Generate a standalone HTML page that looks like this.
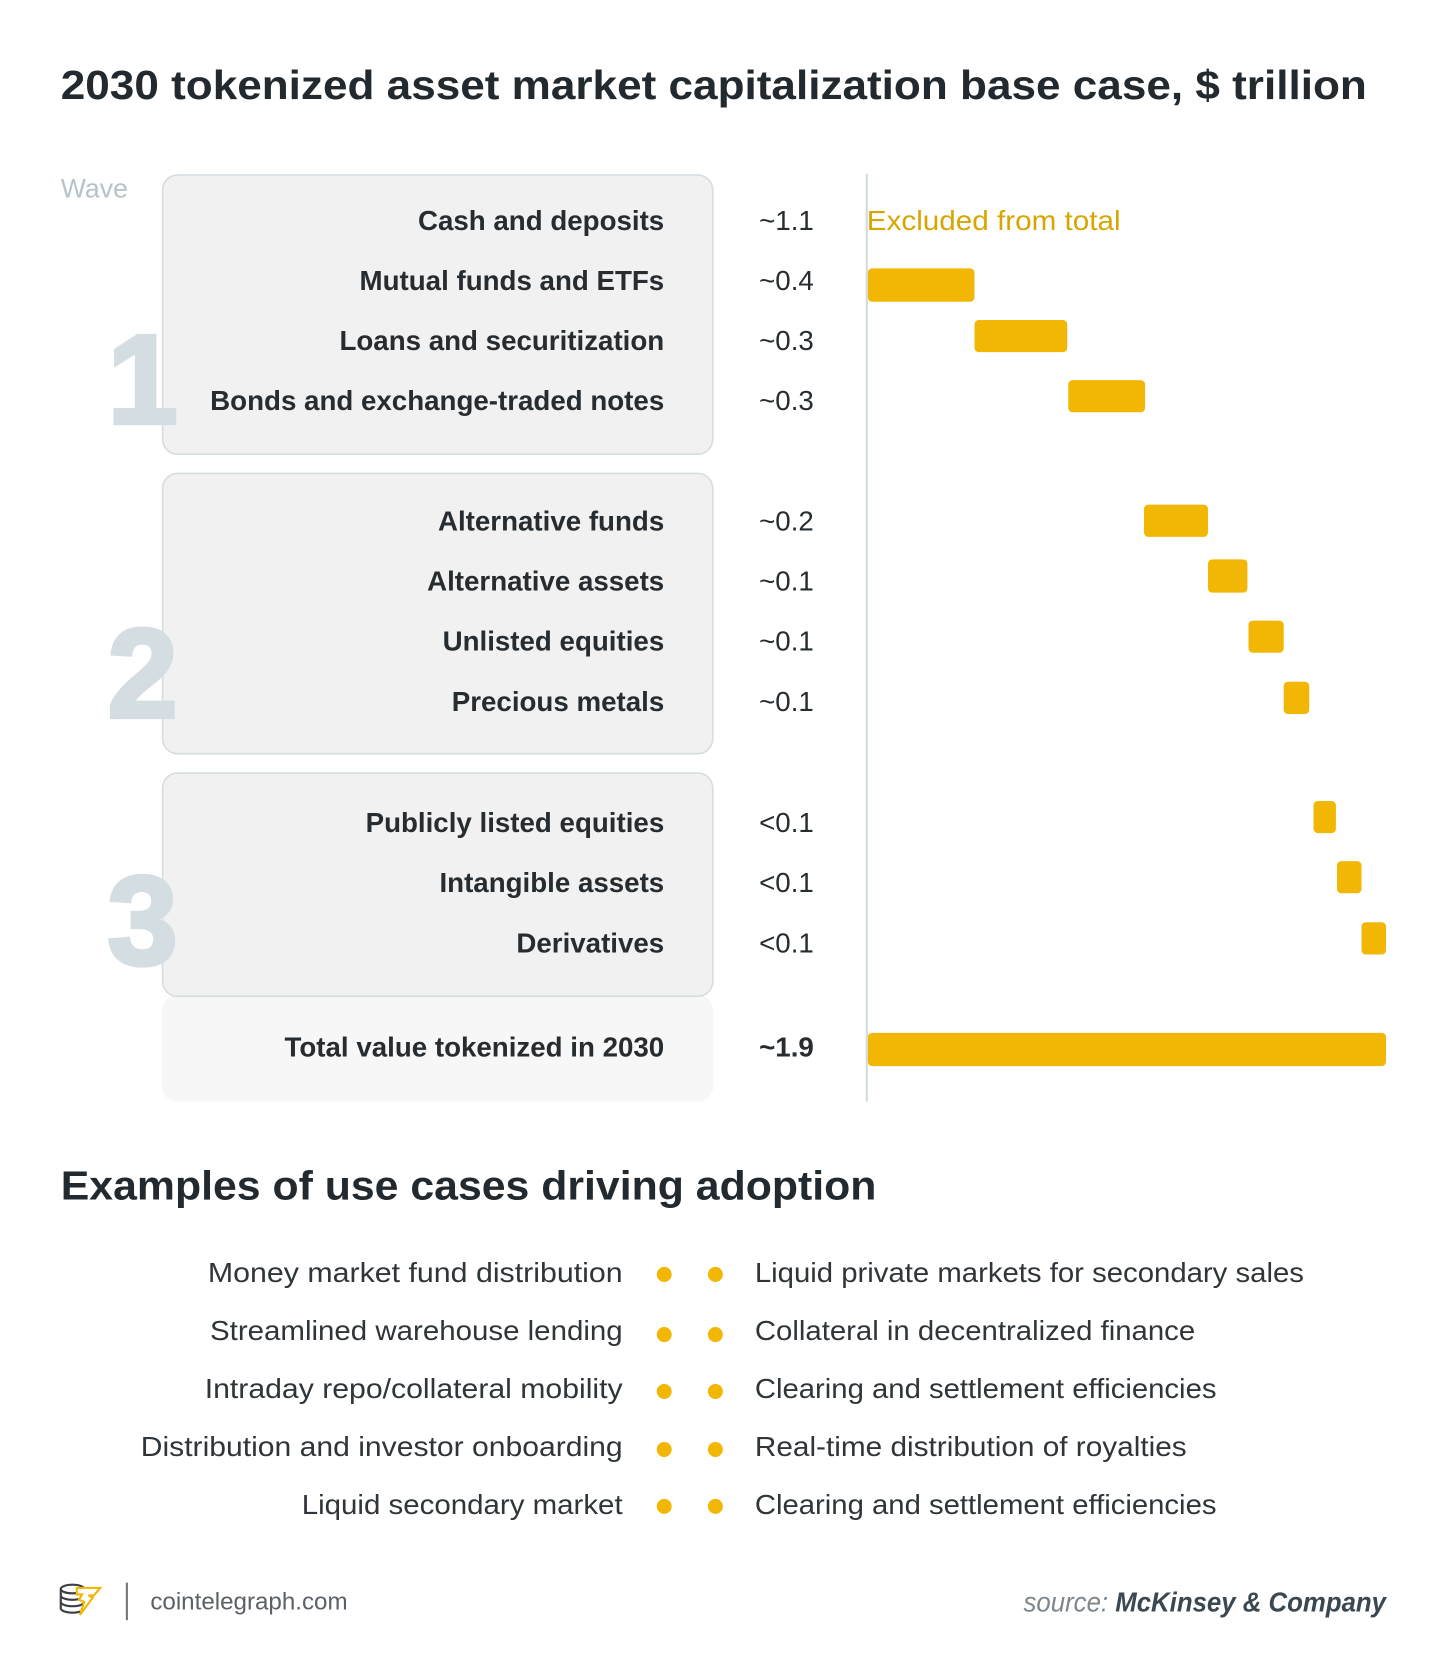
<!DOCTYPE html>
<html><head><meta charset="utf-8"><style>
html,body{margin:0;padding:0;background:#fff;}
svg{display:block;}
text{font-family:"Liberation Sans","DejaVu Sans",sans-serif;}
</style></head><body>
<svg width="1450" height="1676" viewBox="0 0 1360 1561" preserveAspectRatio="none" xmlns="http://www.w3.org/2000/svg">
<rect width="1360" height="1561" fill="#fff"/>
<text x="57" y="92" font-size="38" font-weight="bold" fill="#232a2f" textLength="1225" lengthAdjust="spacingAndGlyphs">2030 tokenized asset market capitalization base case, $ trillion</text>
<text x="57" y="184" font-size="25" fill="#b7c3cb">Wave</text>
<rect x="152" y="927" width="517" height="99" rx="14" fill="#f7f7f7"/>
<rect x="152.5" y="163" width="516" height="260" rx="14" fill="#f1f1f1" stroke="#d6dde1" stroke-width="1.5"/>
<rect x="152.5" y="441" width="516" height="261" rx="14" fill="#f1f1f1" stroke="#d6dde1" stroke-width="1.5"/>
<rect x="152.5" y="720" width="516" height="208" rx="14" fill="#f1f1f1" stroke="#d6dde1" stroke-width="1.5"/>
<g font-size="118" font-weight="bold" fill="#d4dde2" stroke="#d4dde2" stroke-width="4">
<text x="101" y="394">1</text>
<text x="101" y="668">2</text>
<text x="101" y="898">3</text>
</g>
<g font-size="26" fill="#262c30" text-anchor="end" font-weight="bold">
<text x="623" y="214">Cash and deposits</text>
<text x="623" y="270">Mutual funds and ETFs</text>
<text x="623" y="326">Loans and securitization</text>
<text x="623" y="382">Bonds and exchange-traded notes</text>
<text x="623" y="494">Alternative funds</text>
<text x="623" y="550">Alternative assets</text>
<text x="623" y="606">Unlisted equities</text>
<text x="623" y="662">Precious metals</text>
<text x="623" y="775">Publicly listed equities</text>
<text x="623" y="831">Intangible assets</text>
<text x="623" y="887">Derivatives</text>
<text x="623" y="984">Total value tokenized in 2030</text>
</g>
<g font-size="26" fill="#262c30">
<text x="712" y="214">~1.1</text>
<text x="712" y="270">~0.4</text>
<text x="712" y="326">~0.3</text>
<text x="712" y="382">~0.3</text>
<text x="712" y="494">~0.2</text>
<text x="712" y="550">~0.1</text>
<text x="712" y="606">~0.1</text>
<text x="712" y="662">~0.1</text>
<text x="712" y="775">&lt;0.1</text>
<text x="712" y="831">&lt;0.1</text>
<text x="712" y="887">&lt;0.1</text>
<text x="712" y="984" font-weight="bold">~1.9</text>
</g>
<line x1="813" y1="162" x2="813" y2="1026" stroke="#d3dbdf" stroke-width="2"/>
<text x="813" y="214" font-size="26" fill="#d7a600" textLength="238" lengthAdjust="spacingAndGlyphs">Excluded from total</text>
<g fill="#f2b705">
<rect x="814" y="250" width="100" height="31" rx="4"/>
<rect x="914" y="298" width="87" height="30" rx="4"/>
<rect x="1002" y="354" width="72" height="30" rx="4"/>
<rect x="1073" y="470" width="60" height="30" rx="4"/>
<rect x="1133" y="521" width="37" height="31" rx="4"/>
<rect x="1171" y="578" width="33" height="30" rx="4"/>
<rect x="1204" y="635" width="24" height="30" rx="4"/>
<rect x="1232" y="746" width="21" height="30" rx="4"/>
<rect x="1254" y="802" width="23" height="30" rx="4"/>
<rect x="1277" y="859" width="23" height="30" rx="4"/>
<rect x="814" y="962" width="486" height="31" rx="4"/>
</g>
<text x="57" y="1117" font-size="38" font-weight="bold" fill="#232a2f" textLength="765" lengthAdjust="spacingAndGlyphs">Examples of use cases driving adoption</text>
<g font-size="26" fill="#2f3539" text-anchor="end">
<text x="584" y="1194" textLength="389" lengthAdjust="spacingAndGlyphs">Money market fund distribution</text>
<text x="584" y="1248" textLength="387" lengthAdjust="spacingAndGlyphs">Streamlined warehouse lending</text>
<text x="584" y="1302" textLength="392" lengthAdjust="spacingAndGlyphs">Intraday repo/collateral mobility</text>
<text x="584" y="1356" textLength="452" lengthAdjust="spacingAndGlyphs">Distribution and investor onboarding</text>
<text x="584" y="1410" textLength="301" lengthAdjust="spacingAndGlyphs">Liquid secondary market</text>
</g>
<g font-size="26" fill="#2f3539">
<text x="708" y="1194" textLength="515" lengthAdjust="spacingAndGlyphs">Liquid private markets for secondary sales</text>
<text x="708" y="1248" textLength="413" lengthAdjust="spacingAndGlyphs">Collateral in decentralized finance</text>
<text x="708" y="1302" textLength="433" lengthAdjust="spacingAndGlyphs">Clearing and settlement efficiencies</text>
<text x="708" y="1356" textLength="405" lengthAdjust="spacingAndGlyphs">Real-time distribution of royalties</text>
<text x="708" y="1410" textLength="433" lengthAdjust="spacingAndGlyphs">Clearing and settlement efficiencies</text>
</g>
<g fill="#f2b705">
<circle cx="623" cy="1187" r="7"/><circle cx="671" cy="1187" r="7"/>
<circle cx="623" cy="1243" r="7"/><circle cx="671" cy="1243" r="7"/>
<circle cx="623" cy="1296" r="7"/><circle cx="671" cy="1296" r="7"/>
<circle cx="623" cy="1350" r="7"/><circle cx="671" cy="1350" r="7"/>
<circle cx="623" cy="1403" r="7"/><circle cx="671" cy="1403" r="7"/>
</g>
<g fill="none" stroke="#3a3f44" stroke-width="2">
<ellipse cx="68" cy="1480" rx="11" ry="4"/>
<path d="M57 1480 v18 a11 4 0 0 0 22 0 v-18"/>
<path d="M57 1486 a11 4 0 0 0 22 0 M57 1492 a11 4 0 0 0 22 0"/>
</g>
<path d="M72 1479 h22 l-6 7 h-5 l4 2 -12 16 4 -12 -5 -2 3 -5 h-5z" fill="#fff" stroke="#f2b705" stroke-width="2"/>
<line x1="119" y1="1474" x2="119" y2="1509" stroke="#777" stroke-width="2"/>
<text x="141" y="1499" font-size="22" fill="#5b6166" textLength="185" lengthAdjust="spacingAndGlyphs">cointelegraph.com</text>
<text x="1300" y="1501" font-size="26" text-anchor="end" font-style="italic" textLength="340" lengthAdjust="spacingAndGlyphs"><tspan fill="#7e868c">source: </tspan><tspan fill="#3b4851" font-weight="bold">McKinsey &amp; Company</tspan></text>
</svg>
</body></html>
